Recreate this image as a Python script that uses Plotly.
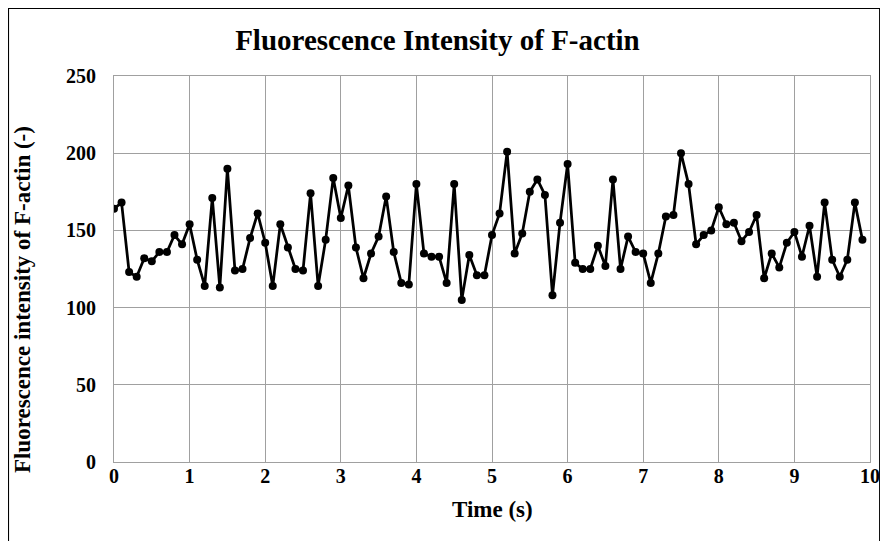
import plotly.graph_objects as go

# time points (s)
time_s = [
    0.0, 0.1, 0.2, 0.3, 0.4, 0.5, 0.6, 0.7, 0.8, 0.9,
    1.0, 1.1, 1.2, 1.3, 1.4, 1.5, 1.6, 1.7, 1.8, 1.9,
    2.0, 2.1, 2.2, 2.3, 2.4, 2.5, 2.6, 2.7, 2.8, 2.9,
    3.0, 3.1, 3.2, 3.3, 3.4, 3.5, 3.6, 3.7, 3.8, 3.9,
    4.0, 4.1, 4.2, 4.3, 4.4, 4.5, 4.6, 4.7, 4.8, 4.9,
    5.0, 5.1, 5.2, 5.3, 5.4, 5.5, 5.6, 5.7, 5.8, 5.9,
    6.0, 6.1, 6.2, 6.3, 6.4, 6.5, 6.6, 6.7, 6.8, 6.9,
    7.0, 7.1, 7.2, 7.3, 7.4, 7.5, 7.6, 7.7, 7.8, 7.9,
    8.0, 8.1, 8.2, 8.3, 8.4, 8.5, 8.6, 8.7, 8.8, 8.9,
    9.0, 9.1, 9.2, 9.3, 9.4, 9.5, 9.6, 9.7, 9.8, 9.9,
]

# fluorescence intensity of F-actin (-)
intensity = [
    164, 168, 123, 120, 132, 130, 136, 136, 147, 141,
    154, 131, 114, 171, 113, 190, 124, 125, 145, 161,
    142, 114, 154, 139, 125, 124, 174, 114, 144, 184,
    158, 179, 139, 119, 135, 146, 172, 136, 116, 115,
    180, 135, 133, 133, 116, 180, 105, 134, 121, 121,
    147, 161, 201, 135, 148, 175, 183, 173, 108, 155,
    193, 129, 125, 125, 140, 127, 183, 125, 146, 136,
    135, 116, 135, 159, 160, 200, 180, 141, 147, 150,
    165, 154, 155, 143, 149, 160, 119, 135, 126, 142,
    149, 133, 153, 120, 168, 131, 120, 131, 168, 144,
]

x_ticks = [0, 1, 2, 3, 4, 5, 6, 7, 8, 9, 10]
y_ticks = [0, 50, 100, 150, 200, 250]

FONT = "Liberation Serif, Times New Roman, serif"
GRID = "#a0a0a0"

fig = go.Figure()
fig.add_trace(go.Scatter(
    x=time_s, y=intensity, mode="lines+markers",
    line=dict(color="black", width=2.75),
    marker=dict(color="black", size=8),
    showlegend=False,
))

# page body has an 8px margin, so the figure is 872x533
fig.update_layout(
    width=872, height=533,
    margin=dict(l=106, r=10, t=68, b=79),
    paper_bgcolor="white", plot_bgcolor="white",
    font=dict(family=FONT, color="black"),
    title=dict(text="<b>Fluorescence Intensity of F-actin</b>",
               x=0.4925, xanchor="center", y=0.94, yanchor="middle",
               font=dict(size=29, family=FONT, color="black")),
    xaxis=dict(range=[0, 10], tickvals=x_ticks, ticktext=[f"<b>{v}</b>" for v in x_ticks],
               showgrid=True, gridcolor=GRID, gridwidth=1, automargin=False,
               showline=True, linecolor=GRID, linewidth=1, mirror=True,
               zeroline=False, ticks="", ticklabelstandoff=-4,
               tickfont=dict(size=20, family=FONT)),
    yaxis=dict(range=[0, 250], tickvals=y_ticks, ticktext=[f"<b>{v}</b>" for v in y_ticks],
               showgrid=True, gridcolor=GRID, gridwidth=1, automargin=False,
               showline=True, linecolor=GRID, linewidth=1, mirror=True,
               zeroline=False, ticks="", ticklabelstandoff=13,
               tickfont=dict(size=20, family=FONT)),
    annotations=[
        dict(text="<b>Fluorescence intensity of F-actin (-)</b>",
             xref="paper", yref="paper", x=-0.1217, y=0.422,
             xanchor="center", yanchor="middle", textangle=-90, showarrow=False,
             font=dict(size=23, family=FONT, color="black")),
        dict(text="<b>Time (s)</b>",
             xref="paper", yref="paper", x=0.5, y=-0.124,
             xanchor="center", yanchor="middle", showarrow=False,
             font=dict(size=23, family=FONT, color="black")),
    ],
    shapes=[dict(type="rect", xref="paper", yref="paper",
                 x0=-0.1396, x1=1.0128, y0=-0.3, y1=1.1752,
                 line=dict(color="black", width=1.2))],
)

fig.write_html("out.html")
